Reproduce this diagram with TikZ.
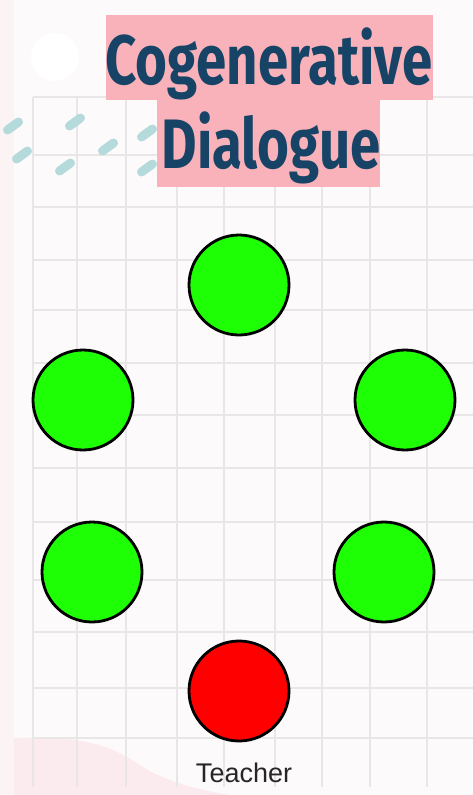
\documentclass[tikz,border=0pt]{standalone}
\usepackage{fontspec}
\setmainfont{Liberation Sans}
\newfontfamily\titlefont{Fira Sans}
\usetikzlibrary{shapes.geometric}
\definecolor{bgpink}{HTML}{FDFAFB}
\definecolor{strip}{HTML}{FCF3F5}
\definecolor{titlepink}{HTML}{F9B2BA}
\definecolor{navy}{HTML}{174466}
\definecolor{gridgray}{HTML}{E9E6E8}
\definecolor{teal}{HTML}{B5DADB}
\definecolor{blob}{HTML}{FCEBEE}
\definecolor{student}{HTML}{1EFF05}
\tikzset{
  person/.style={circle, draw=black, line width=2.8pt, minimum size=100pt, inner sep=0pt},
  studentnode/.style={person, fill=student},
  teachernode/.style={person, fill=red},
  gridline/.style={draw=gridgray, line width=1.3pt},
  dashmark/.style={draw=teal, line width=9pt, line cap=round},
  titletext/.style={font=\titlefont\bfseries\fontsize{70}{70}\selectfont, text=navy, inner sep=0pt},
}
\begin{document}
\begin{tikzpicture}[x=1pt,y=-1pt]
\useasboundingbox (0,0) rectangle (473,795);
\fill[bgpink] (0,0) rectangle (473,795);
\fill[strip] (0,0) rectangle (14,795);
% faint pink blob bottom-left
\fill[blob] (14,738) .. controls (80,735) and (110,745) .. (140,765) .. controls (165,782) and (200,790) .. (230,795) -- (14,795) -- cycle;
% white circle top-left
\fill[white] (55,57) circle (24);
% grid
\foreach \x in {33,77,126,177,224,275,322,370,427}
  \draw[gridline] (\x,97) -- (\x,787);
\foreach \y in {97,155,207,260,310,363,415,468,522,580,632,688,738}
  \draw[gridline] (33,\y) -- (473,\y);
% teal dashes
\foreach \px/\py in {75/122,108/147,147/133,22/155,65/167,147/168,13/126}
  \draw[dashmark] (\px-5.5,\py+4) -- (\px+5.5,\py-4);
% title
\fill[titlepink] (106,15) rectangle (433,100);
\fill[titlepink] (157,100) rectangle (380,187);
\node[titletext, anchor=base] (t1) at (269,84) {\scalebox{0.78}[1]{Cogenerative}};
\node[titletext, anchor=base] (t2) at (271,168) {\scalebox{0.78}[1]{Dialogue}};
% people
\node[studentnode] (s1) at (239,285) {};
\node[studentnode] (s2) at (83,400) {};
\node[studentnode] (s3) at (405,400) {};
\node[studentnode] (s4) at (92,572) {};
\node[studentnode] (s5) at (384,572) {};
\node[teachernode] (tc) at (239,691) {};
\node[font=\fontsize{27}{27}\selectfont, text=black!85, anchor=base] (lbl) at (244,782) {Teacher};
\end{tikzpicture}
\end{document}
